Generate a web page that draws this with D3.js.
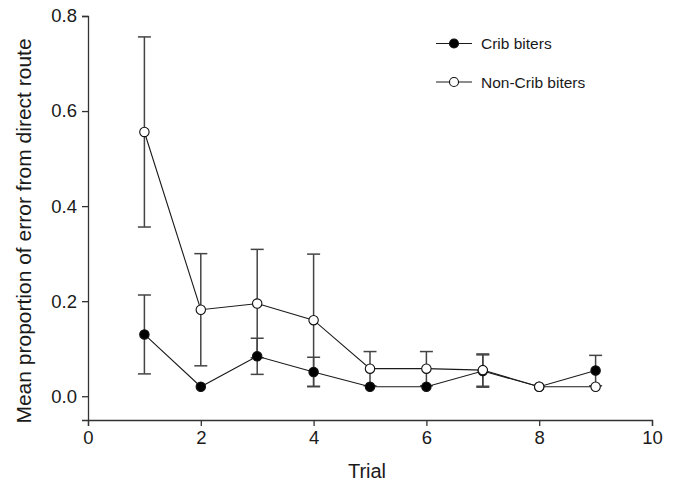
<!DOCTYPE html>
<html>
<head>
<meta charset="utf-8">
<script src="https://cdn.jsdelivr.net/npm/d3@7"></script>
<style>
  html, body { margin: 0; padding: 0; background: #fff; }
  svg text { font-family: "Liberation Sans", Arial, sans-serif; fill: #1a1a1a; }
</style>
</head>
<body>
<svg id="chart" width="678" height="483"></svg>
<script>
// Trials and per-group means with standard errors
const trials = [1, 2, 3, 4, 5, 6, 7, 8, 9];
const cribMean = [0.130, 0.020, 0.084, 0.051, 0.020, 0.020, 0.053, 0.020, 0.054];
const cribSE   = [0.083, 0.000, 0.038, 0.031, 0.000, 0.000, 0.034, 0.000, 0.032];
const nonCribMean = [0.556, 0.182, 0.195, 0.160, 0.058, 0.058, 0.055, 0.020, 0.020];
const nonCribSE   = [0.200, 0.118, 0.114, 0.139, 0.036, 0.036, 0.034, 0.000, 0.000];
const xTicks = [0, 2, 4, 6, 8, 10];
const yTicks = [0.0, 0.2, 0.4, 0.6, 0.8];

const series = [
  { name: "Crib biters", mean: cribMean, se: cribSE, fill: "#000" },
  { name: "Non-Crib biters", mean: nonCribMean, se: nonCribSE, fill: "#fff" }
];

const svg = d3.select("#chart");
const x = d3.scaleLinear().domain([0, 10]).range([88, 652]);
const y = d3.scaleLinear().domain([-0.05, 0.8]).range([420, 16]);

// Axes
const xAxis = svg.append("g")
  .attr("transform", `translate(0,${y.range()[0]})`)
  .call(d3.axisBottom(x).tickValues(xTicks).tickFormat(d3.format("d")).tickSizeOuter(0).tickSize(6).tickPadding(5));
const yAxis = svg.append("g")
  .attr("transform", `translate(${x.range()[0]},0)`)
  .call(d3.axisLeft(y).tickValues(yTicks).tickFormat(d3.format(".1f")).tickSizeOuter(0).tickSize(6).tickPadding(5));

[xAxis, yAxis].forEach(g => {
  g.select(".domain").attr("stroke", "#333").attr("stroke-width", 1.3);
  g.selectAll(".tick line").attr("stroke", "#333").attr("stroke-width", 1.3);
  g.selectAll(".tick text").style("font-size", "18.5px").attr("fill", "#1a1a1a");
});

// Axis titles
svg.append("text")
  .attr("x", x(5) - 3).attr("y", 478)
  .attr("text-anchor", "middle")
  .style("font-size", "20px")
  .text("Trial");
svg.append("text")
  .attr("transform", `translate(31,${231}) rotate(-90)`)
  .attr("text-anchor", "middle")
  .style("font-size", "21px")
  .text("Mean proportion of error from direct route");

const plot = svg.append("g");
const line = d3.line().x((d, i) => x(trials[i])).y(d => y(d));
const capW = 6.5;

// Error bars first, then connecting lines, then markers on top
series.forEach(s => {
  const bars = trials.map((t, i) => ({ t, m: s.mean[i], e: s.se[i] })).filter(d => d.e > 0);
  const g = plot.append("g").attr("stroke", "#444").attr("stroke-width", 1.5);
  bars.forEach(d => {
    g.append("line").attr("x1", x(d.t)).attr("x2", x(d.t)).attr("y1", y(d.m - d.e)).attr("y2", y(d.m + d.e));
    [d.m - d.e, d.m + d.e].forEach(v => {
      g.append("line").attr("x1", x(d.t) - capW).attr("x2", x(d.t) + capW).attr("y1", y(v)).attr("y2", y(v));
    });
  });
});

series.forEach(s => {
  plot.append("path").datum(s.mean)
    .attr("d", line).attr("fill", "none").attr("stroke", "#1a1a1a").attr("stroke-width", 1.1);
});

// Crib markers drawn first so the open markers sit on top where they coincide
series.forEach(s => {
  plot.append("g").selectAll("circle").data(s.mean).join("circle")
    .attr("cx", (d, i) => x(trials[i])).attr("cy", d => y(d)).attr("r", 4.7)
    .attr("fill", s.fill).attr("stroke", "#111").attr("stroke-width", 1.1);
});

// Legend
const legend = svg.append("g");
series.forEach((s, i) => {
  const ly = 43.5 + i * 38.5;
  legend.append("line").attr("x1", 436).attr("x2", 472).attr("y1", ly).attr("y2", ly)
    .attr("stroke", "#1a1a1a").attr("stroke-width", 1.1);
  legend.append("circle").attr("cx", 454).attr("cy", ly).attr("r", 4.5)
    .attr("fill", s.fill).attr("stroke", "#111").attr("stroke-width", 1.1);
  legend.append("text").attr("x", 481).attr("y", ly + 5.5)
    .style("font-size", "15.5px").text(s.name);
});
</script>
</body>
</html>
